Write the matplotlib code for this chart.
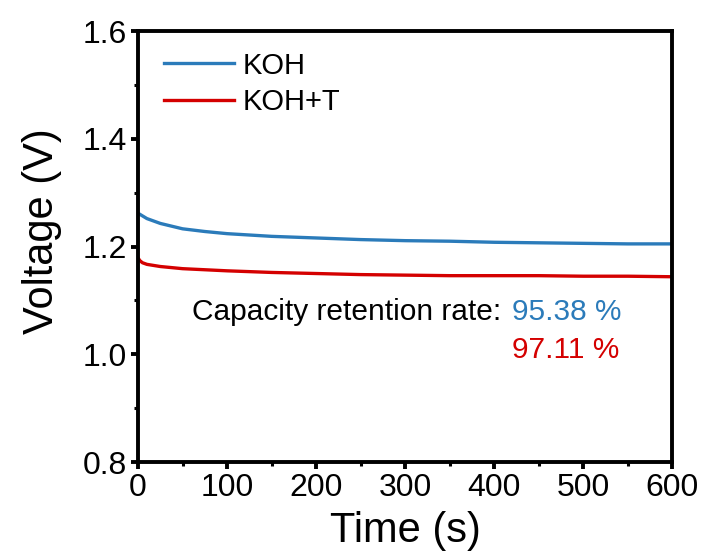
import matplotlib.pyplot as plt
from matplotlib.ticker import MultipleLocator

plt.rcParams['font.family'] = ['Liberation Sans', 'DejaVu Sans']

# Discharge curves
time_koh = [0, 5, 10, 25, 50, 75, 100, 150, 200, 250, 300, 350, 400, 450, 500, 550, 600]
volt_koh = [1.262, 1.257, 1.252, 1.243, 1.233, 1.228, 1.224, 1.219, 1.216, 1.213, 1.211,
            1.210, 1.208, 1.207, 1.206, 1.205, 1.205]
time_koht = [0, 2, 5, 10, 25, 50, 75, 100, 150, 200, 250, 300, 350, 400, 450, 500, 550, 600]
volt_koht = [1.179, 1.174, 1.170, 1.167, 1.163, 1.159, 1.157, 1.155, 1.152, 1.150, 1.148,
             1.147, 1.146, 1.146, 1.146, 1.145, 1.145, 1.144]
retention = ['95.38 %', '97.11 %']

blue = '#2b7bba'
red = '#d40000'

fig = plt.figure(figsize=(7.06, 5.56), dpi=100)
ax = fig.add_axes([0.1955, 0.169, 0.757, 0.775])

ax.plot(time_koh, volt_koh, color=blue, lw=2.4, label='KOH')
ax.plot(time_koht, volt_koht, color=red, lw=2.4, label='KOH+T')

ax.set_xlim(0, 600)
ax.set_ylim(0.8, 1.6)
ax.xaxis.set_major_locator(MultipleLocator(100))
ax.xaxis.set_minor_locator(MultipleLocator(50))
ax.yaxis.set_major_locator(MultipleLocator(0.2))
ax.yaxis.set_minor_locator(MultipleLocator(0.1))
ax.yaxis.set_major_formatter(plt.FormatStrFormatter('%.1f'))

for s in ax.spines.values():
    s.set_linewidth(2.8)
ax.tick_params(which='major', direction='out', length=5, width=2.8, labelsize=23, pad=3)
ax.tick_params(which='minor', direction='out', length=3, width=2.2)

ax.set_xlabel('Time (s)', fontsize=30, labelpad=6)
ax.set_ylabel('Voltage (V)', fontsize=30, labelpad=15, y=0.535)

ax.legend(loc='upper left', frameon=False, fontsize=21, handlelength=2.4,
          handletextpad=0.3, labelspacing=0.3, borderaxespad=0.3,
          bbox_to_anchor=(0.01, 1.0))

ax.text(0.101, 0.348, 'Capacity retention rate:', transform=ax.transAxes, fontsize=21.5,
        va='center')
ax.text(0.699, 0.348, retention[0], transform=ax.transAxes, fontsize=21.5, va='center', color=blue)
ax.text(0.699, 0.26, retention[1], transform=ax.transAxes, fontsize=21.5, va='center', color=red)

fig.savefig('out.png', dpi=100)
